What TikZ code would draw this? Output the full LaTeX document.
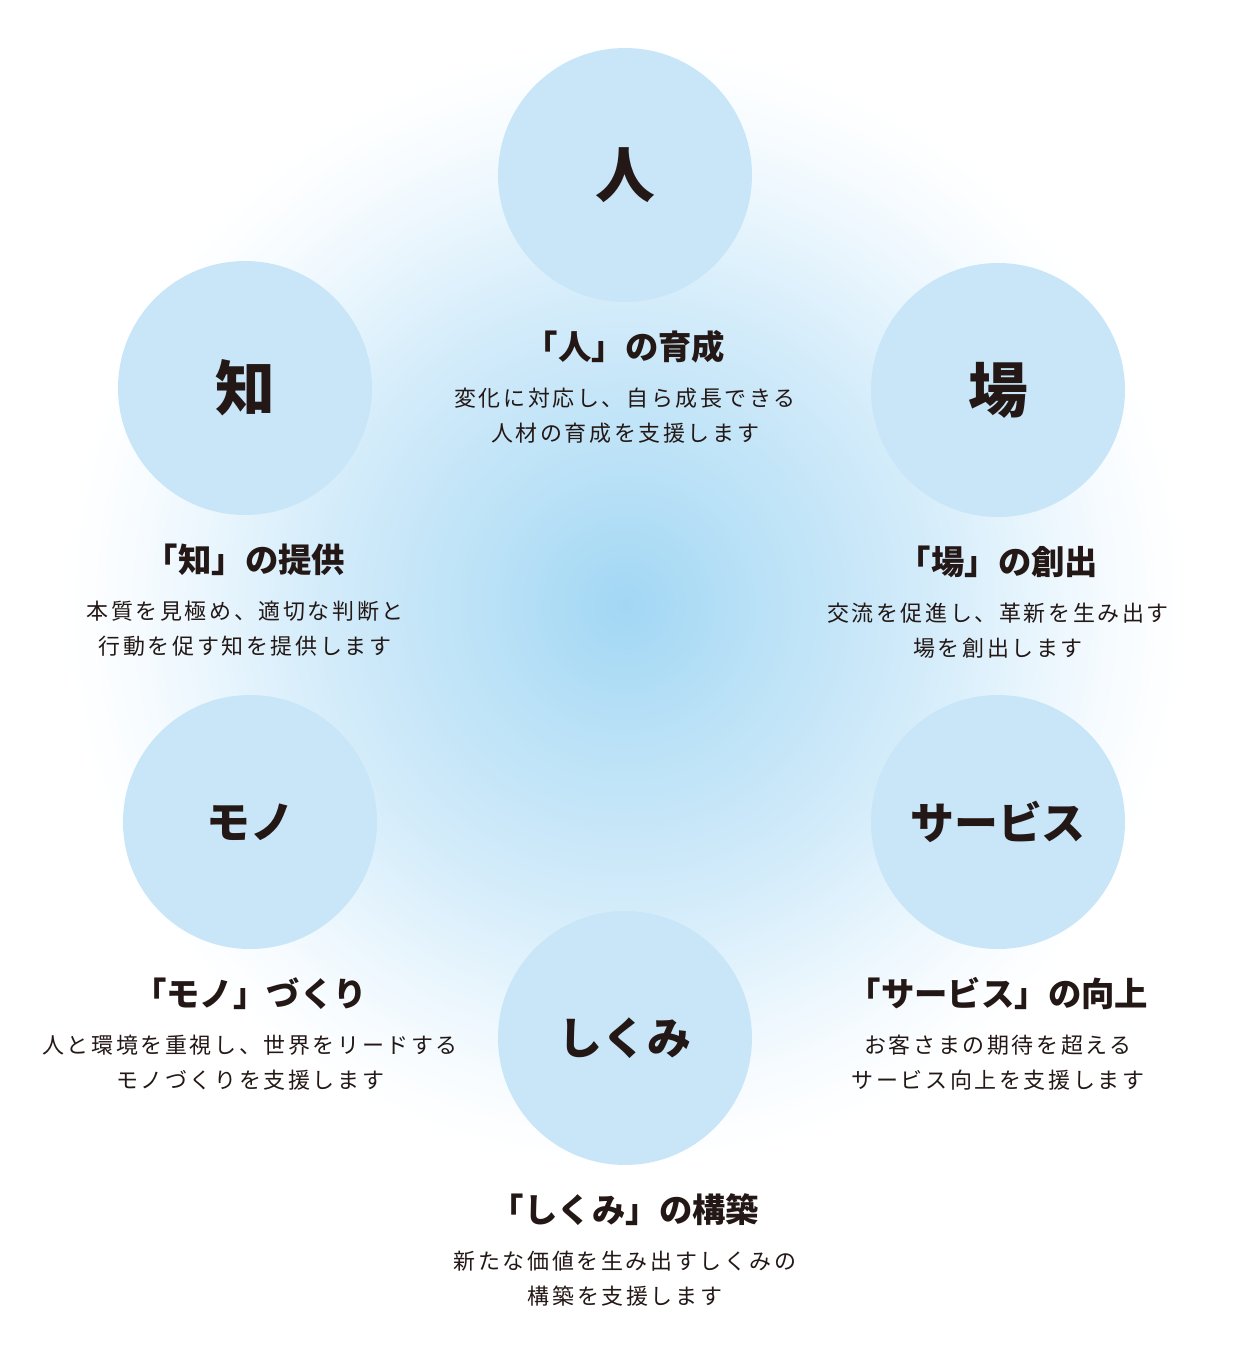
\documentclass[tikz,border=0pt]{standalone}
\usepackage{fontspec}
\setmainfont{Noto Sans CJK JP}
\newfontfamily\jpspaced[LetterSpace=12]{Noto Sans CJK JP}
\usetikzlibrary{positioning}

\definecolor{ink}{HTML}{231815}
\definecolor{discblue}{HTML}{C8E6F8}
\definecolor{glowA}{HTML}{A2D7F4}
\definecolor{glowB}{HTML}{BCE2F7}
\definecolor{glowC}{HTML}{CBE8F9}
\definecolor{glowD}{HTML}{D8EEFB}
\definecolor{glowE}{HTML}{EAF6FD}
\definecolor{glowF}{HTML}{F8FCFF}
\pgfdeclareradialshading{glow}{\pgfpoint{0bp}{0bp}}{color(0bp)=(glowA); color(6.7bp)=(glowB); color(11.2bp)=(glowC); color(14.7bp)=(glowD); color(18.75bp)=(glowE); color(22.3bp)=(glowF); color(25bp)=(white); color(50bp)=(white)}

\begin{document}
\begin{tikzpicture}[x=0.02cm, y=-0.02cm, node distance=3.44cm,
    disc/.style={circle, fill=discblue, minimum size=5.08cm, inner sep=0pt, text=ink},
    bigword/.style={font=\bfseries\fontsize{34}{40}\selectfont},
    word/.style={font=\bfseries\fontsize{25}{30}\selectfont},
    heading/.style={text=ink, font=\bfseries\fontsize{19}{23}\selectfont},
    blurb/.style={text=ink, align=center, font=\jpspaced\fontsize{12.5}{19.8}\selectfont}]
        \useasboundingbox (0,0) rectangle (1250,1350);
        \fill[white] (0,0) rectangle (1250,1350);
        \shade[shading=glow] (625,605) circle (11.2cm);

        \node [disc, bigword] (hito) at (625,175) {人};
        \node [disc, bigword] (ba) at (998,390) {場};
        \node [disc, word] (service) at (998,822) {サービス};
        \node [disc, word] (shikumi) at (625,1038) {しくみ};
        \node [disc, word] (mono) at (250,822) {モノ};
        \node [disc, bigword] (chi) at (245,388) {知};

        \node [heading, below of=hito] (hitoT) {「人」の育成};
        \node [heading, below of=ba] (baT) {「場」の創出};
        \node [heading, below of=service] (serviceT) {「サービス」の向上};
        \node [heading, below of=shikumi] (shikumiT) {「しくみ」の構築};
        \node [heading, below of=mono] (monoT) {「モノ」づくり};
        \node [heading, below of=chi] (chiT) {「知」の提供};

        \node [blurb, node distance=1.38cm, below of=hitoT] (hitoD) {変化に対応し、自ら成長できる\\人材の育成を支援します};
        \node [blurb, node distance=1.38cm, below of=baT] (baD) {交流を促進し、革新を生み出す\\場を創出します};
        \node [blurb, node distance=1.38cm, below of=serviceT] (serviceD) {お客さまの期待を超える\\サービス向上を支援します};
        \node [blurb, node distance=1.38cm, below of=shikumiT] (shikumiD) {新たな価値を生み出すしくみの\\構築を支援します};
        \node [blurb, node distance=1.38cm, below of=monoT] (monoD) {人と環境を重視し、世界をリードする\\モノづくりを支援します};
        \node [blurb, node distance=1.38cm, below of=chiT] (chiD) {本質を見極め、適切な判断と\\行動を促す知を提供します};
      \end{tikzpicture}
\end{document}
